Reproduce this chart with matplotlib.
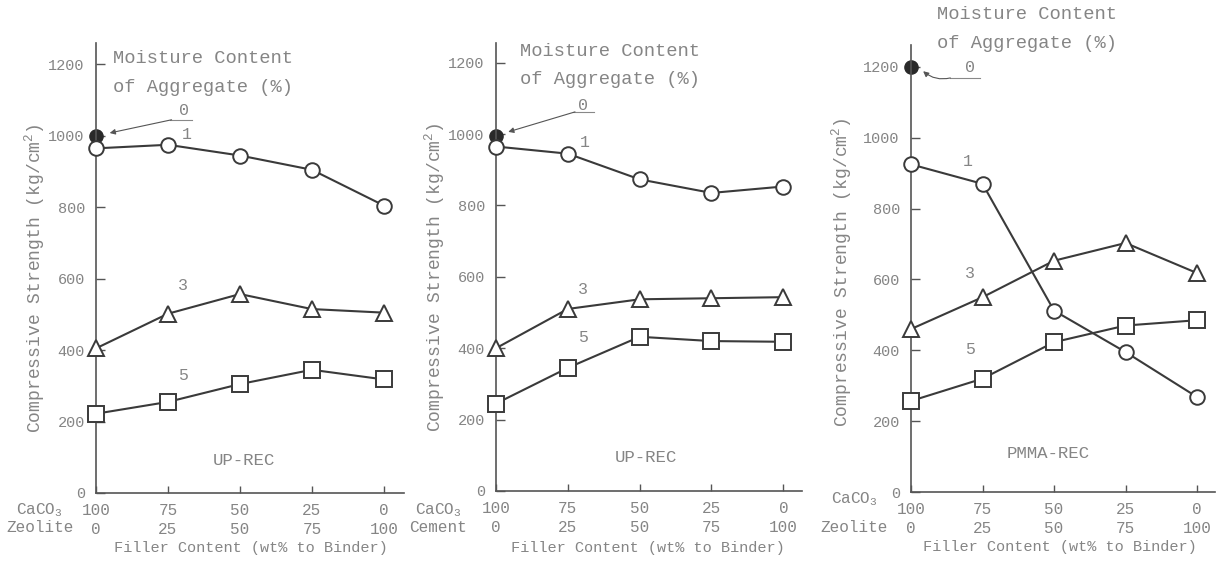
import numpy as np
import matplotlib.pyplot as plt

plt.rcParams['font.family'] = ['Liberation Mono', 'DejaVu Sans Mono']

W, H = 1217, 564

pos = np.arange(5)
caco3 = ['100', '75', '50', '25', '0']
other = ['0', '25', '50', '75', '100']
yticks = [0, 200, 400, 600, 800, 1000, 1200]

# UP-REC, CaCO3 / Zeolite filler
a_dry = 1000
a_m1 = [965, 975, 945, 905, 805]
a_m3 = [405, 502, 557, 515, 505]
a_m5 = [222, 255, 305, 345, 318]

# UP-REC, CaCO3 / Cement filler
b_dry = 995
b_m1 = [965, 945, 873, 835, 853]
b_m3 = [400, 510, 537, 540, 543]
b_m5 = [245, 345, 432, 420, 418]

# PMMA-REC, CaCO3 / Zeolite filler
c_dry = 1200
c_m1 = [925, 870, 512, 395, 268]
c_m3 = [460, 550, 653, 703, 618]
c_m5 = [257, 320, 423, 470, 485]

line_c = '#3a3a3a'
text_c = '#858585'


def px(x, y):
    return x / W, 1 - y / H


def draw(ax, dry, m1, m3, m5):
    ax.plot(0, dry, 'o', ms=9.5, color='#2a2a2a', clip_on=False, zorder=2)
    kw = dict(color=line_c, mfc='white', mec=line_c, mew=1.4, lw=1.5,
              clip_on=False, zorder=3)
    ax.plot(pos, m1, '-o', ms=10.5, **kw)
    ax.plot(pos, m3, '-^', ms=12, **kw)
    ax.plot(pos, m5, '-s', ms=11.5, **kw)


panels = [
    dict(rect=(96, 43, 404, 493), xmax=4.28, ymax=1260,
         data=(a_dry, a_m1, a_m3, a_m5), name='UP-REC', name_xy=(2.06, 92),
         lab0=(1.22, 1070), ul=(1.03, 1.33, 1045), arrow=((1.05, 1045), (0.19, 1008), 0.0),
         lab1=(1.26, 1003), lab3=(1.21, 580), lab5=(1.21, 328),
         moist=(0.24, 1216, 1134),
         ylab=(35, 278), xlab=(251, 548),
         row1=('CaCO$\\mathregular{_3}$', 63, 510), row2=('Zeolite', 74, 528)),
    dict(rect=(496, 43, 802, 491), xmax=4.26, ymax=1255,
         data=(b_dry, b_m1, b_m3, b_m5), name='UP-REC', name_xy=(2.08, 95),
         lab0=(1.21, 1081), ul=(1.07, 1.37, 1062), arrow=((1.1, 1062), (0.17, 1006), 0.0),
         lab1=(1.24, 975), lab3=(1.21, 565), lab5=(1.21, 431),
         moist=(0.33, 1232, 1154),
         ylab=(435, 277), xlab=(648, 548),
         row1=('CaCO$\\mathregular{_3}$', 462, 510), row2=('Cement', 467, 528)),
    dict(rect=(911, 45, 1215, 492), xmax=4.25, ymax=1262,
         data=(c_dry, c_m1, c_m3, c_m5), name='PMMA-REC', name_xy=(1.92, 110),
         lab0=(0.83, 1198), ul=(0.55, 0.97, 1169), arrow=((0.55, 1169), (0.17, 1188), -0.25),
         lab1=(0.8, 932), lab3=(0.83, 616), lab5=(0.83, 401),
         moist=(0.36, 1347, 1265),
         ylab=(842, 272), xlab=(1060, 547),
         row1=('CaCO$\\mathregular{_3}$', 878, 499), row2=('Zeolite', 888, 527)),
]

fig = plt.figure(figsize=(W / 100, H / 100), dpi=100)

for p in panels:
    l, t, r, b = p['rect']
    ax = fig.add_axes([l / W, 1 - b / H, (r - l) / W, (b - t) / H])
    draw(ax, *p['data'])

    ax.set_xlim(0, p['xmax'])
    ax.set_ylim(0, p['ymax'])
    for s in ['top', 'right']:
        ax.spines[s].set_visible(False)
    for s in ['left', 'bottom']:
        ax.spines[s].set_color('#555555')
        ax.spines[s].set_linewidth(1.2)

    ax.set_yticks(yticks)
    ax.set_xticks(pos)
    ax.set_xticklabels([f'{a}\n{b}' for a, b in zip(caco3, other)])
    ax.tick_params(axis='y', direction='in', length=6.5, width=1, pad=8,
                   labelsize=11, labelcolor=text_c, color='#555555')
    ax.tick_params(axis='x', direction='in', length=5, width=1, pad=7,
                   labelsize=11.5, labelcolor=text_c, color='#555555')
    for t in ax.get_xticklabels():
        t.set_linespacing(1.35)

    # series labels
    ax.text(*p['lab0'], '0', fontsize=12, color=text_c, ha='center', va='center')
    x1, x2, yu = p['ul']
    ax.plot([x1, x2], [yu, yu], color='#888888', lw=0.8)
    (sx, sy), (ex, ey), rad = p['arrow']
    ax.annotate('', xy=(ex, ey), xytext=(sx, sy),
                arrowprops=dict(arrowstyle='-|>', lw=0.8, color='#555555',
                                mutation_scale=8, shrinkA=0, shrinkB=0,
                                connectionstyle=f'arc3,rad={rad}'))
    ax.text(*p['lab1'], '1', fontsize=12, color=text_c, ha='center', va='center')
    ax.text(*p['lab3'], '3', fontsize=12, color=text_c, ha='center', va='center')
    ax.text(*p['lab5'], '5', fontsize=12, color=text_c, ha='center', va='center')
    ax.text(*p['name_xy'], p['name'], fontsize=12.5, color=text_c, ha='center', va='center')

    mx, my1, my2 = p['moist']
    ax.text(mx, my1, 'Moisture Content', fontsize=13.5, color=text_c, va='center')
    ax.text(mx, my2, 'of Aggregate (%)', fontsize=13.5, color=text_c, va='center')

    fig.text(*px(*p['ylab']), 'Compressive Strength (kg/cm$\\mathregular{^2}$)',
             rotation=90, fontsize=13, color=text_c, ha='center', va='center')
    fig.text(*px(*p['xlab']), 'Filler Content (wt% to Binder)',
             fontsize=11, color=text_c, ha='center', va='center')
    n1, rx1, ry1 = p['row1']
    n2, rx2, ry2 = p['row2']
    fig.text(*px(rx1, ry1), n1, fontsize=11.5, color=text_c, ha='right', va='center')
    fig.text(*px(rx2, ry2), n2, fontsize=11.5, color=text_c, ha='right', va='center')

fig.savefig('out.png', dpi=100, facecolor='white')
